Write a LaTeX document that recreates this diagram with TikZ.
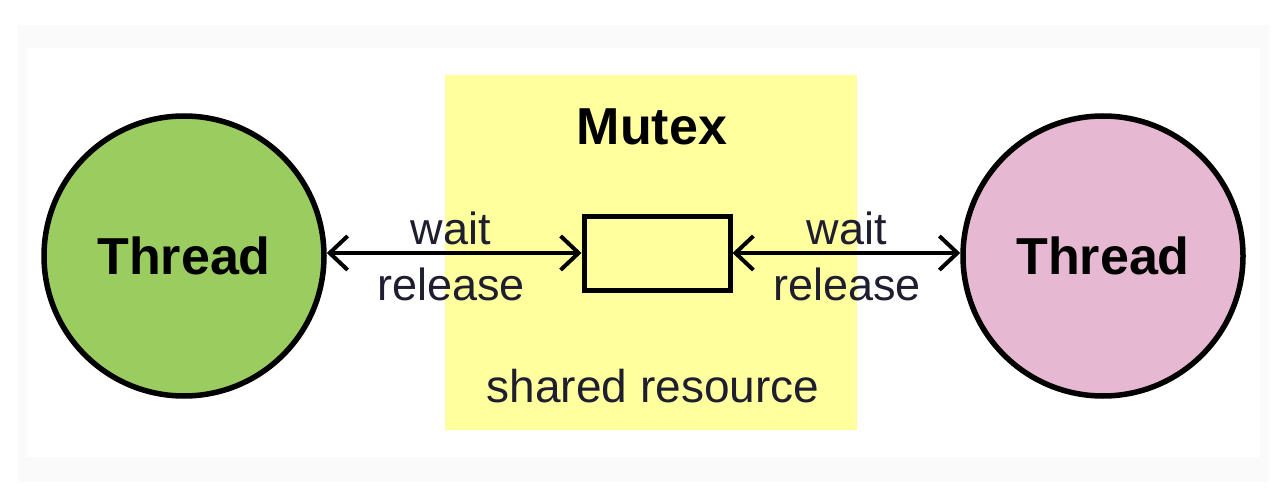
\documentclass[tikz,border=0pt]{standalone}
\usepackage{fontspec}
\setmainfont{Liberation Sans}
\usetikzlibrary{arrows.meta}
\definecolor{thgreen}{HTML}{9BCC60}
\definecolor{thpink}{HTML}{E7B8D2}
\definecolor{myellow}{HTML}{FFFF9E}
\definecolor{frame}{HTML}{FAFAFA}
\definecolor{labtext}{HTML}{1E1E30}
\tikzset{
  thread/.style={circle, draw=black, line width=5.5pt, minimum size=280pt, inner sep=0pt,
    font=\fontsize{52}{60}\selectfont\bfseries},
  lock/.style={draw=black, line width=5pt, fill=myellow, minimum width=146pt, minimum height=74pt, inner sep=0pt},
  conn/.style={line width=4pt, {Straight Barb[length=18pt,width=34pt,line width=4pt]}-{Straight Barb[length=18pt,width=34pt,line width=4pt]}},
  lab/.style={text=labtext, font=\fontsize{45}{52}\selectfont, inner sep=0pt},
}
\begin{document}
\begin{tikzpicture}[x=1pt,y=-1pt]
\useasboundingbox (0,0) rectangle (1280,492);
\fill[white] (0,0) rectangle (1280,492);
\fill[frame] (18,25) rectangle (1269,482);
\fill[white] (27,48) rectangle (1260,457);
\fill[myellow] (445,75) rectangle (857,430);
\node[font=\fontsize{52}{60}\selectfont\bfseries, inner sep=0pt] (mutex) at (652,127) {Mutex};
\node[lock] (m) at (657,253) {};
\node[thread, fill=thgreen] (t1) at (184,256) {Thread};
\node[thread, fill=thpink] (t2) at (1103,256) {Thread};
\draw[conn] (t1.east |- m.west) -- (m.west);
\draw[conn] (m.east) -- (t2.west |- m.east);
\node[lab] (w1) at (451,228) {wait};
\node[lab] (r1) at (451,284) {release};
\node[lab] (w2) at (847,228) {wait};
\node[lab] (r2) at (847,284) {release};
\node[lab, font=\fontsize{46}{52}\selectfont] (sr) at (653,386) {shared resource};
\end{tikzpicture}
\end{document}
